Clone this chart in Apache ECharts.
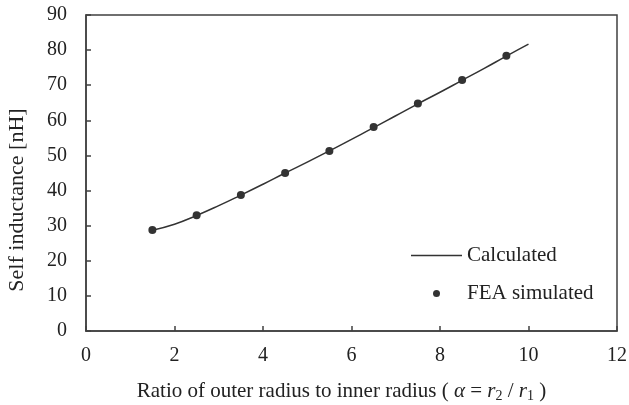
<!DOCTYPE html>
<html>
<head>
<meta charset="utf-8">
<script src="https://cdn.jsdelivr.net/npm/echarts@6/dist/echarts.min.js"></script>
<style>
  html, body { margin: 0; padding: 0; background: #fff; }
  #chart { width: 629px; height: 405px; }
</style>
</head>
<body>
<div id="chart"></div>
<script>
// calculated curve
const calcX = [1.5, 2, 2.5, 3, 3.5, 4, 4.5, 5, 5.5, 6, 6.5, 7, 7.5, 8, 8.5, 9, 9.5, 10];
const calcY = [28.7, 30.4, 32.9, 35.7, 38.7, 41.8, 45.0, 48.1, 51.3, 54.6, 57.9, 61.3, 64.7, 68.0, 71.4, 74.8, 78.3, 81.7];

// FEA simulated points
const feaX = [1.5, 2.5, 3.5, 4.5, 5.5, 6.5, 7.5, 8.5, 9.5];
const feaY = [28.8, 33.0, 38.7, 45.0, 51.3, 58.1, 64.8, 71.5, 78.4];

const FONT = "Liberation Serif";
const ink = "#222";
const axisCol = "#404040";

const chart = echarts.init(document.getElementById("chart"));

const option = {
  animation: false,
  textStyle: { fontFamily: FONT, color: ink },
  grid: {
    left: 86, right: 12, top: 15, bottom: 74,
    outerBoundsMode: "none",
    show: true, borderColor: axisCol, borderWidth: 1.5
  },
  legend: {
    orient: "vertical",
    left: 411, top: 245, padding: 0,
    itemWidth: 51, itemHeight: 7, itemGap: 17,
    textStyle: { fontFamily: FONT, fontSize: 21, color: ink },
    data: [
      // plain line sample, no marker
      { name: "Calculated", icon: "path://M0,0L51,0L51,1.5L0,1.5Z" },
      { name: "FEA simulated", icon: "circle" }
    ]
  },
  xAxis: {
    type: "value",
    min: 0, max: 12, interval: 2,
    name: "{t|Ratio of outer radius to inner radius ( }{i|\u03b1}{t| = }{i|r}{s|2}{t| / }{i|r}{s|1}{t| )}",
    nameLocation: "middle",
    nameGap: 48,
    nameTextStyle: {
      padding: [0, 20, 0, 0],
      rich: {
        t: { fontFamily: FONT, fontSize: 21, color: ink },
        i: { fontFamily: FONT, fontSize: 21, fontStyle: "italic", color: ink },
        s: { fontFamily: FONT, fontSize: 14, color: ink, padding: [10, 0, 0, 0] }
      }
    },
    splitLine: { show: false },
    axisLine: { lineStyle: { color: axisCol, width: 1.5 } },
    axisTick: { inside: true, length: 5, lineStyle: { color: axisCol, width: 1.5 } },
    axisLabel: { margin: 15, fontSize: 20, fontFamily: FONT, color: ink }
  },
  yAxis: {
    type: "value",
    min: 0, max: 90, interval: 10,
    name: "Self inductance [nH]",
    nameLocation: "middle",
    nameGap: 58,
    nameTextStyle: { fontFamily: FONT, fontSize: 22, color: ink, padding: [0, 54, 0, 0] },
    splitLine: { show: false },
    axisLine: { lineStyle: { color: axisCol, width: 1.5 } },
    axisTick: { inside: true, length: 5, lineStyle: { color: axisCol, width: 1.5 } },
    axisLabel: { margin: 19, fontSize: 20, fontFamily: FONT, color: ink }
  },
  series: [
    {
      name: "Calculated",
      type: "line",
      smooth: true,
      symbol: "none",
      data: calcX.map((x, i) => [x, calcY[i]]),
      lineStyle: { color: "#333", width: 1.5 },
      itemStyle: { color: "#333" }
    },
    {
      name: "FEA simulated",
      type: "scatter",
      symbol: "circle",
      symbolSize: 8,
      data: feaX.map((x, i) => [x, feaY[i]]),
      itemStyle: { color: "#000" }
    }
  ]
};

chart.setOption(option);
</script>
</body>
</html>
